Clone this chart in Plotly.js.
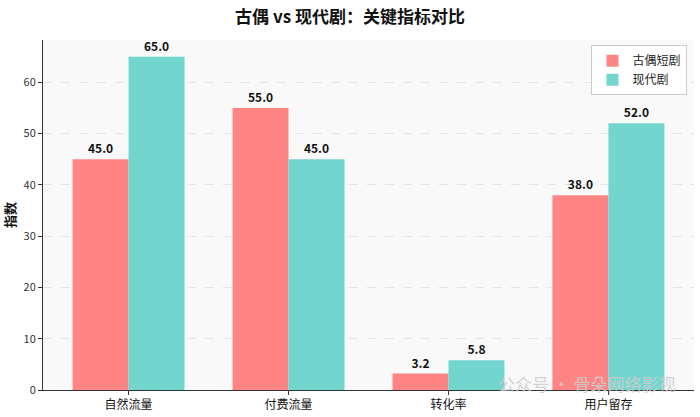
<!DOCTYPE html>
<html><head><meta charset="utf-8">
<script src="https://cdn.plot.ly/plotly-3.0.1.min.js"></script>
<style>html,body{margin:0;padding:0;background:#fff}#c{width:700px;height:417px}</style>
</head><body><div id="c"></div>
<script>
const categories = ['自然流量', '付费流量', '转化率', '用户留存'];
const seriesNames = ['古偶短剧', '现代剧'];
const guouValues = [45, 55, 3.2, 38];
const modernValues = [65, 45, 5.8, 52];
const yTicks = [0, 10, 20, 30, 40, 50, 60];

const F = '"Noto Sans CJK SC", "Noto Sans", sans-serif';
const mk = (name, vals, color) => ({
  type: 'bar', name: name, x: categories, y: vals,
  marker: {color: color, line: {width: 0}},
  text: vals.map(v => '<b>' + v.toFixed(1) + '</b>'),
  textposition: 'outside', cliponaxis: false,
  textfont: {family: F, size: 12, color: '#111'}
});
const data = [mk(seriesNames[0], guouValues, '#FF8585'), mk(seriesNames[1], modernValues, '#72D6CF')];
const layout = {
  width: 700, height: 417,
  margin: {l: 43, r: 6, t: 40, b: 27},
  paper_bgcolor: '#fff', plot_bgcolor: '#f9f9f9',
  barmode: 'group', bargap: 0.3, bargroupgap: 0,
  font: {family: F, color: '#222'},
  title: {text: '<b>古偶 vs 现代剧：关键指标对比</b>', x: 0.5, xanchor: 'center', y: 0.96, yanchor: 'middle', font: {family: F, size: 17, color: '#111'}},
  xaxis: {range: [-0.535, 3.535], showline: true, linecolor: '#333', linewidth: 1, ticks: 'outside', ticklen: 4, tickcolor: '#333', tickfont: {size: 12, color: '#111'}, showgrid: false, zeroline: false},
  yaxis: {range: [0, 68.25], tickvals: yTicks, showline: true, linecolor: '#333', linewidth: 1, ticks: 'outside', ticklen: 4, tickcolor: '#333', tickfont: {size: 11, color: '#333'}, showgrid: true, gridcolor: '#e4e4e4', griddash: 'dash', gridwidth: 1, zeroline: false,
    title: {text: '<b>指数</b>', font: {size: 13, color: '#111'}, standoff: 8}},
  legend: {x: 0.99, y: 0.985, xanchor: 'right', yanchor: 'top', bgcolor: 'rgba(255,255,255,0.9)', bordercolor: '#ccc', borderwidth: 1, font: {size: 12, color: '#222'}, tracegroupgap: 2},
  annotations: [{text: '公众号 · 骨朵网络影视', xref: 'paper', yref: 'paper', x: 0.975, y: 0.02, xanchor: 'right', yanchor: 'middle', showarrow: false, font: {size: 17, color: 'rgba(205,205,205,0.9)'}}]
};
Plotly.newPlot('c', data, layout, {displayModeBar: false});
</script></body></html>
